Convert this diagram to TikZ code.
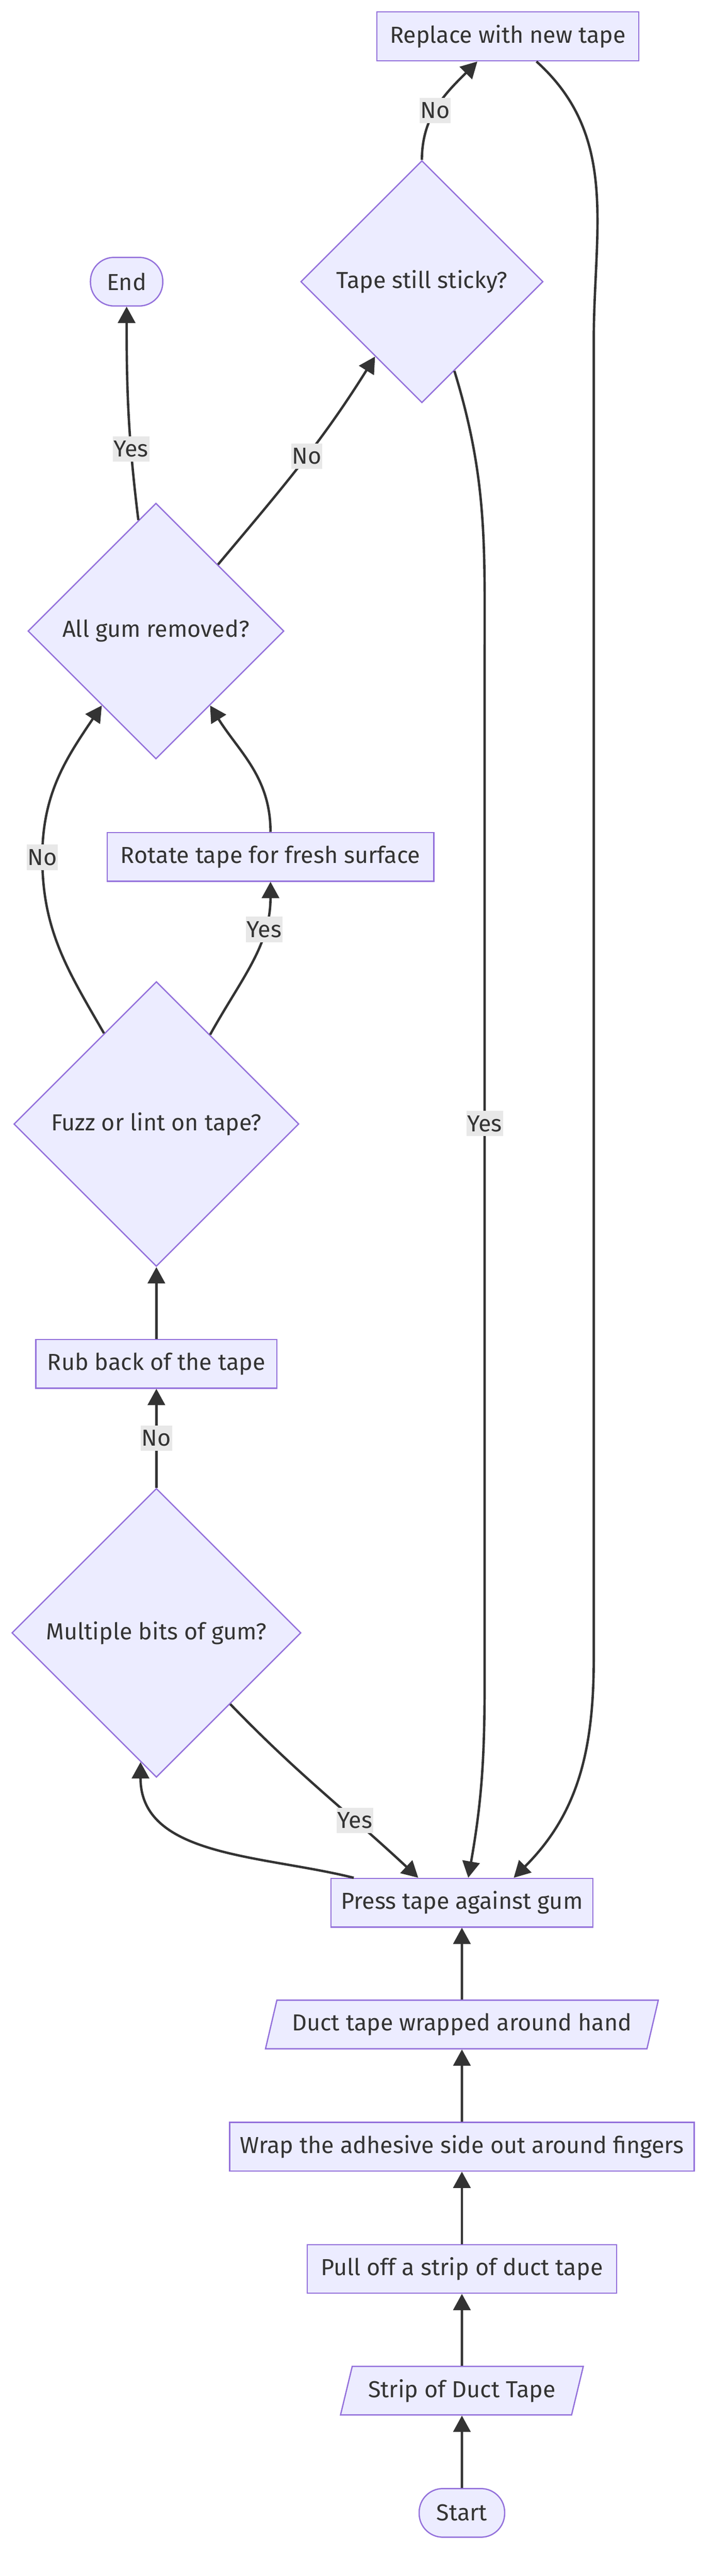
\documentclass[tikz,border=0pt]{standalone}
\usepackage{fontspec}
\setmainfont{Fira Sans}
\usepackage{tikz}
\usetikzlibrary{positioning}
\usetikzlibrary{shapes.geometric, arrows.meta}

\definecolor{mmfill}{HTML}{ECECFF}
\definecolor{mmborder}{HTML}{9370DB}
\definecolor{mmline}{HTML}{333333}
\definecolor{mmlabel}{HTML}{E8E8E8}

\begin{document}
\begin{tikzpicture}[
  every node/.style={font=\fontsize{14.5pt}{17pt}\selectfont, text=mmline},
  box/.style={rectangle, draw=mmborder, fill=mmfill, line width=0.8pt, minimum height=1.07cm, inner sep=0pt},
  term/.style={box, rounded corners=0.52cm},
  ask/.style={diamond, aspect=1, draw=mmborder, fill=mmfill, line width=0.8pt, inner sep=0pt},
  io/.style={trapezium, trapezium left angle=63, trapezium right angle=117, trapezium stretches body,
    draw=mmborder, fill=mmfill, line width=0.8pt, minimum height=1.07cm, inner sep=0pt},
  flow/.style={draw=mmline, line width=1.5pt, -{Triangle[length=0.36cm,width=0.38cm]}},
  lbl/.style={fill=mmlabel, inner xsep=0.02cm, inner ysep=0pt, minimum height=0.56cm}
]
\useasboundingbox (0,0) rectangle (15.68,-56.70);

\node[term, minimum width=1.88cm] (start) at (10.16,-55.31) {Start};
\node[io, minimum width=5.34cm] (strip) at (10.16,-52.62) {Strip of Duct Tape};
\node[box, minimum width=6.80cm] (pull) at (10.16,-49.94) {Pull off a strip of duct tape};
\node[box, minimum width=10.22cm] (wrap) at (10.16,-47.25) {Wrap the adhesive side out around fingers};
\node[io, minimum width=8.64cm] (hand) at (10.16,-44.56) {Duct tape wrapped around hand};
\node[box, minimum width=5.76cm] (press) at (10.16,-41.88) {Press tape against gum};
\node[ask, minimum size=6.36cm] (multi) at (3.44,-35.94) {Multiple bits of gum?};
\node[box, minimum width=5.30cm] (rub) at (3.44,-30.02) {Rub back of the tape};
\node[ask, minimum size=6.27cm] (fuzz) at (3.44,-24.74) {Fuzz or lint on tape?};
\node[box, minimum width=7.18cm] (rotate) at (5.95,-18.86) {Rotate tape for fresh surface};
\node[ask, minimum size=5.63cm] (gum) at (3.43,-13.89) {All gum removed?};
\node[term, minimum width=1.59cm] (finish) at (2.785,-6.20) {End};
\node[ask, minimum size=5.33cm] (sticky) at (9.28,-6.20) {Tape still sticky?};
\node[box, minimum width=5.76cm, minimum height=1.08cm] (replace) at (11.17,-0.80) {Replace with new tape};

\draw[flow] (start) -- (strip);
\draw[flow] (strip) -- (pull);
\draw[flow] (pull) -- (wrap);
\draw[flow] (wrap) -- (hand);
\draw[flow] (hand) -- (press);
\draw[flow] ([xshift=-2.38cm]press.north) to[out=166, in=-90] (multi.263);
\draw[flow] (multi.-44) to[out=-46, in=137] node[lbl, pos=0.68] {Yes} ([xshift=-0.96cm]press.north);
\draw[flow] (multi) -- node[lbl] {No} (rub);
\draw[flow] (rub) -- (fuzz);
\draw[flow] (fuzz.59) to[out=61, in=-90] node[lbl, pos=0.72] {Yes} (rotate.south);
\draw[flow] (fuzz.120) to[out=120, in=-90] (0.93,-18.87) node[lbl] {No} to[out=90, in=-124] (gum.234);
\draw[flow] (rotate.north) to[out=90, in=-58] (gum.-54);
\draw[flow] (gum.99) to[out=97, in=-90] node[lbl, pos=0.32] {Yes} (finish.south);
\draw[flow] (gum.47) to[out=50, in=-122] node[lbl, pos=0.54] {No} (sticky.238);
\draw[flow] (sticky.north) to[out=90, in=-135] node[lbl, pos=0.45] {No} ([xshift=-0.67cm]replace.south);
\draw[flow] (sticky.-70) to[out=-73, in=90] (10.66,-14.5) -- (10.66,-24.73) node[lbl] {Yes} -- (10.66,-37.0) to[out=-90, in=80] ([xshift=0.14cm]press.north);
\draw[flow] ([xshift=0.63cm]replace.south) to[out=-42, in=90] (13.06,-7.5) -- (13.06,-36.5) to[out=-90, in=45] ([xshift=1.14cm]press.north);

\end{tikzpicture}
\end{document}
